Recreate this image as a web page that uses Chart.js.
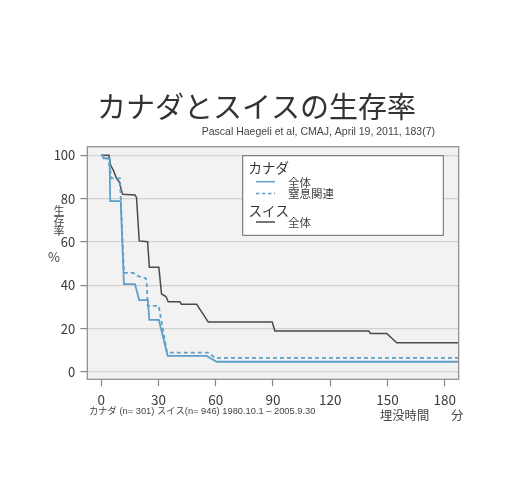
<!DOCTYPE html>
<html><head><meta charset="utf-8">
<script src="https://cdn.jsdelivr.net/npm/chart.js@4"></script>
<style>html,body{margin:0;padding:0;background:#fff;}#wrap{width:526px;height:480px;position:relative;}</style>
</head><body><div id="wrap"><canvas id="c"></canvas></div>
<script>
// ---- data (minutes buried vs survival %) ----
const canadaAllX   = [0, 1, 1.2, 4.4, 4.7, 10.2, 11.9, 17.7, 19.9, 24.4, 25.2, 30.2, 34.8, 55.2, 60.5, 187];
const canadaAllY   = [100, 100, 98.6, 98.6, 78.9, 78.9, 40.5, 40.5, 33.2, 33.2, 24, 24, 7.4, 7.4, 4.7, 4.7];
const canadaAsphX  = [0, 1, 1.2, 3.7, 5.4, 9.8, 11.9, 16.8, 19, 23.3, 23.8, 24.4, 30.1, 34.5, 56.1, 59.6, 187];
const canadaAsphY  = [100, 100, 98.6, 98.6, 89.4, 89.4, 45.7, 45.7, 44.3, 43.3, 40.8, 30.5, 30.5, 8.9, 8.9, 6.5, 6.5];
const swissAllX    = [0, 4.0, 4.9, 6.3, 8.0, 9.4, 11.2, 17.7, 18.5, 19.9, 24.3, 25.2, 30.2, 31.6, 33.9, 35.1, 41.2, 42, 50, 56.1, 89.6, 91, 140.2, 141, 149.6, 154.8, 187];
const swissAllY    = [100, 100, 95.5, 93.2, 89.4, 87.8, 82, 81.7, 80.6, 60.5, 60.1, 48.3, 48.3, 36, 34.8, 32.4, 32.4, 31.2, 31.2, 23, 23, 18.9, 18.9, 17.8, 17.8, 13.5, 13.5];
const xTicks = [0, 30, 60, 90, 120, 150, 180];
const yTicks = [0, 20, 40, 60, 80, 100];
const seriesNames = ['全体', '窒息関連', '全体'];
const groupNames = ['カナダ', 'スイス'];
const titleText = 'カナダとスイスの生存率';
const sourceText = 'Pascal Haegeli et al, CMAJ, April 19, 2011, 183(7)';
const captionText = 'カナダ (n= 301) スイス(n= 946) 1980.10.1 – 2005.9.30';
const xTitle = '埋没時間';
const xUnit = '分';
const yTitleChars = ['生', '存', '率'];
const yUnit = '%';

const BLUE = '#5f9fc8', DARK = '#4a4a4a';
const JP = '"Noto Sans CJK JP", "Noto Sans", sans-serif';
const pts = (xs, ys) => xs.map((x, i) => ({x, y: ys[i]}));

const deco = {
  id: 'deco',
  beforeDraw(chart) {
    const {ctx, chartArea: a} = chart;
    ctx.save();
    ctx.fillStyle = '#f2f2f2';
    ctx.fillRect(a.left, a.top, a.right - a.left, a.bottom - a.top);
    ctx.restore();
  },
  afterDraw(chart) {
    const {ctx, chartArea: a} = chart;
    ctx.save();
    // border
    ctx.strokeStyle = '#8a8a8a'; ctx.lineWidth = 1.2;
    ctx.strokeRect(a.left, a.top, a.right - a.left, a.bottom - a.top);
    // title
    ctx.fillStyle = '#333'; ctx.textBaseline = 'middle';
    ctx.font = '29px ' + JP; ctx.textAlign = 'center';
    ctx.fillText(titleText, 256.5, 107);
    ctx.font = '10.5px "Liberation Sans", Arial, sans-serif'; ctx.textAlign = 'right'; ctx.fillStyle = '#444';
    ctx.fillText(sourceText, 435, 132.5);
    // y title
    ctx.fillStyle = '#444'; ctx.textAlign = 'center';
    ctx.font = '11px ' + JP;
    yTitleChars.forEach((ch, i) => ctx.fillText(ch, 59, 211 + i * 9.8));
    ctx.font = '13px ' + JP;
    ctx.fillText(yUnit, 54, 257.5);
    // bottom texts
    ctx.textAlign = 'left';
    ctx.font = '9.3px "Liberation Sans", ' + JP;
    ctx.fillText(captionText, 89, 411);
    ctx.font = '12.3px ' + JP;
    ctx.fillText(xTitle, 380, 415);
    ctx.fillText(xUnit, 451, 415);
    // legend
    const lx = 242.7, ly = 155.7, lw = 200.6, lh = 79.6;
    ctx.fillStyle = '#fff'; ctx.fillRect(lx, ly, lw, lh);
    ctx.strokeStyle = '#666'; ctx.lineWidth = 1; ctx.strokeRect(lx, ly, lw, lh);
    ctx.fillStyle = '#333';
    ctx.font = '13.5px ' + JP;
    ctx.fillText(groupNames[0], 248.5, 168);
    ctx.fillText(groupNames[1], 248.5, 211);
    ctx.font = '11.5px ' + JP; ctx.fillStyle = '#444';
    const items = [[181.7, BLUE, []], [193.5, BLUE, [3.5, 2.5]], [222, DARK, []]];
    items.forEach(([y, col, dash], i) => {
      ctx.strokeStyle = col; ctx.lineWidth = 1.5; ctx.setLineDash(dash);
      ctx.beginPath(); ctx.moveTo(256, y); ctx.lineTo(275, y); ctx.stroke();
      ctx.setLineDash([]);
      ctx.fillText(seriesNames[i], 288, y + 0.5);
    });
    ctx.restore();
  }
};

new Chart(document.getElementById('c'), {
  type: 'scatter',
  data: {
    datasets: [
      {label: 'カナダ 全体', data: pts(canadaAllX, canadaAllY), showLine: true, borderColor: BLUE, borderWidth: 1.8, pointRadius: 0, fill: false},
      {label: 'カナダ 窒息関連', data: pts(canadaAsphX, canadaAsphY), showLine: true, borderColor: BLUE, borderWidth: 1.8, borderDash: [4, 3], pointRadius: 0, fill: false},
      {label: 'スイス 全体', data: pts(swissAllX, swissAllY), showLine: true, borderColor: DARK, borderWidth: 1.5, pointRadius: 0, fill: false}
    ]
  },
  options: {
    responsive: true, maintainAspectRatio: false, animation: false,
    layout: {padding: {top: 146.7, right: 67.3, left: 0, bottom: 0}},
    plugins: {legend: {display: false}, tooltip: {enabled: false}, title: {display: false}},
    scales: {
      x: {
        type: 'linear', min: -7.3, max: 187.3,
        afterBuildTicks: ax => { ax.ticks = xTicks.map(v => ({value: v})); },
        afterFit: s => { s.height = 480 - 379.3; },
        grid: {drawOnChartArea: false, drawTicks: true, tickLength: 7, tickColor: '#888', tickWidth: 1.2},
        border: {display: false},
        ticks: {padding: 5, color: '#3a3a3a', font: {size: 13.5, family: JP}, maxRotation: 0}
      },
      y: {
        type: 'linear', min: -3.4, max: 104,
        afterBuildTicks: ax => { ax.ticks = yTicks.map(v => ({value: v})); },
        afterFit: s => { s.width = 87.3; },
        grid: {color: '#d2d2d2', lineWidth: 1.2, drawTicks: true, tickLength: 7, tickColor: '#888', tickWidth: 1.2},
        border: {display: false},
        ticks: {padding: 5, color: '#3a3a3a', font: {size: 13, family: JP}}
      }
    }
  },
  plugins: [deco]
});
</script></body></html>
